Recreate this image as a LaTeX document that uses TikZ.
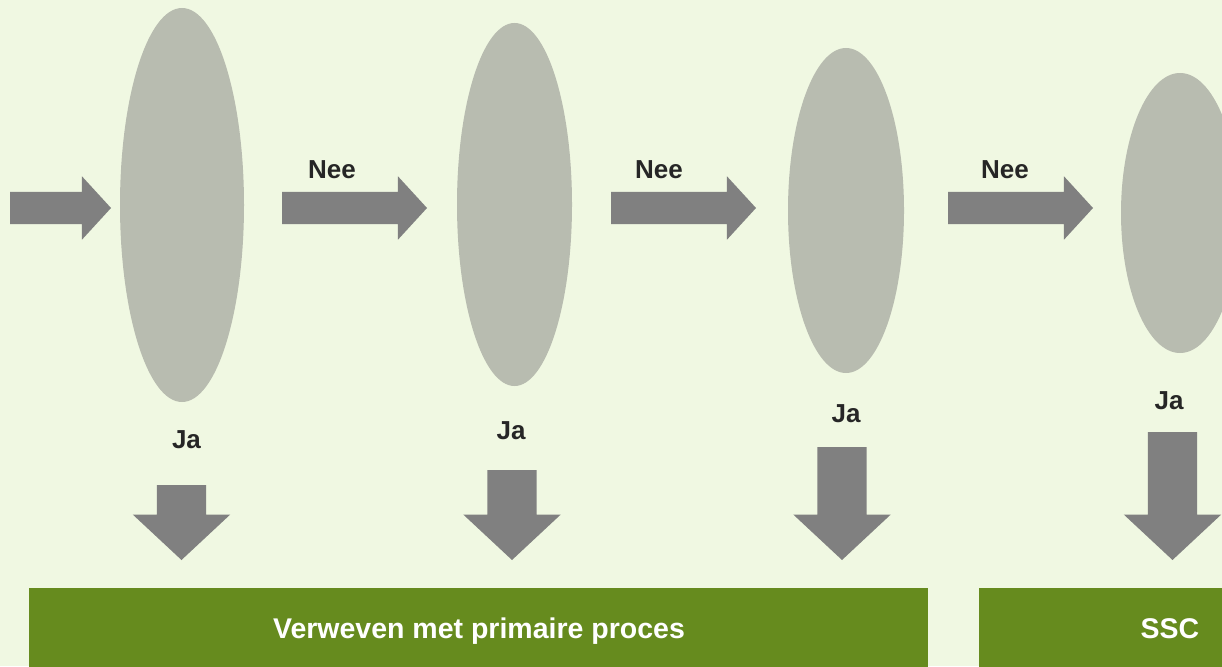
\documentclass[tikz,border=0pt]{standalone}
\usepackage{fontspec}
\setmainfont{Liberation Sans}
\usetikzlibrary{shapes.geometric,shapes.arrows,positioning}

\definecolor{bgcol}{HTML}{F0F8E2}
\definecolor{ovalcol}{HTML}{B8BCB0}
\definecolor{arrowcol}{HTML}{808080}
\definecolor{boxcol}{HTML}{668B1E}
\definecolor{labelcol}{HTML}{262626}

\begin{document}
\begin{tikzpicture}[x=1pt, y=-1pt,
	oval/.style={ellipse, fill=ovalcol, inner sep=0pt, outer sep=0pt},
	rightarrow/.style={single arrow, fill=arrowcol, inner xsep=0pt, inner ysep=16pt, outer sep=0pt,
		minimum width=63pt, single arrow head extend=15.5pt,
		single arrow tip angle=95, anchor=tail},
	downarrow/.style={single arrow, fill=arrowcol, inner xsep=24.5pt, inner ysep=0pt, outer sep=0pt,
		minimum width=97pt, single arrow head extend=24pt,
		single arrow tip angle=94, shape border rotate=270, anchor=tail},
	answer/.style={anchor=base, text=labelcol, font=\bfseries\fontsize{26}{30}\selectfont},
	bar/.style={rectangle, fill=boxcol, inner sep=0pt, outer sep=0pt, anchor=north west},
	bartext/.style={anchor=base, text=white, font=\bfseries\fontsize{28.5}{32}\selectfont}
]

	\clip (0,0) rectangle (1222,666);
	\fill[bgcol] (0,0) rectangle (1222,666);

	% Ovals
	\node[oval, minimum width=124pt, minimum height=394pt] (o1) at (182,205) {};
	\node[oval, minimum width=115pt, minimum height=363pt] (o2) at (514.5,204.5) {};
	\node[oval, minimum width=116pt, minimum height=325pt] (o3) at (846,210.5) {};
	\node[oval, minimum width=118pt, minimum height=280pt] (o4) at (1180,213) {};

	% Arrows to the right
	\node[rightarrow, minimum height=101pt] (r0) at (10,208) {};
	\node[rightarrow, minimum height=145pt] (r1) at (282,208) {};
	\node[rightarrow, minimum height=145pt] (r2) at (611,208) {};
	\node[rightarrow, minimum height=145pt] (r3) at (948,208) {};

	% Arrows down
	\node[downarrow, minimum height=75pt] (d1) at (181.5,485) {};
	\node[downarrow, minimum height=90pt] (d2) at (512,470) {};
	\node[downarrow, minimum height=113pt] (d3) at (842,447) {};
	\node[downarrow, minimum height=128pt] (d4) at (1172.5,432) {};

	% Labels
	\node[answer] (n1) at (332,178) {Nee};
	\node[answer] (n2) at (659,178) {Nee};
	\node[answer] (n3) at (1005,178) {Nee};
	\node[answer] (j1) at (186.5,448) {Ja};
	\node[answer] (j2) at (511,439) {Ja};
	\node[answer] (j3) at (846,422) {Ja};
	\node[answer] (j4) at (1169,409) {Ja};

	% Bars
	\node[bar, minimum width=899pt, minimum height=90pt] (b1) at (29,588) {};
	\node[bar, minimum width=300pt, minimum height=90pt] (b2) at (979,588) {};
	\node[bartext] (t1) at (479,638) {Verweven met primaire proces};
	\node[bartext] (t2) at (1170,638) {SSC};

\end{tikzpicture}
\end{document}
